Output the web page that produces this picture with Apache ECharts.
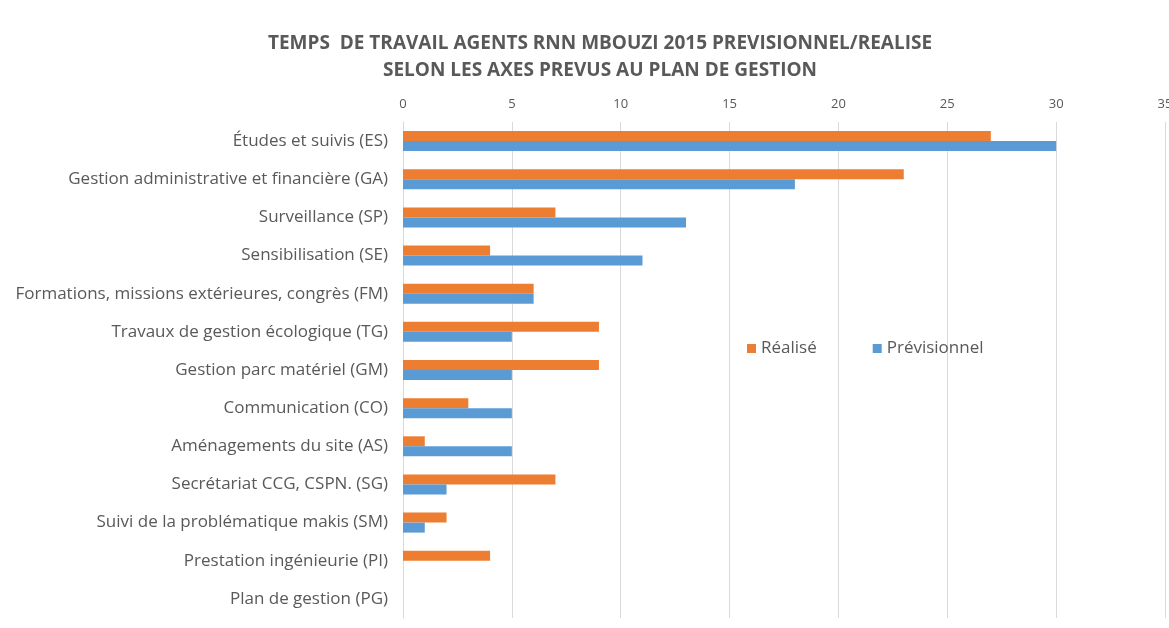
<!DOCTYPE html>
<html>
<head>
<meta charset="utf-8">
<script src="https://cdn.jsdelivr.net/npm/echarts@6/dist/echarts.min.js"></script>
<style>
  html, body { margin: 0; padding: 0; background: #fff; }
  #chart { width: 1169px; height: 628px; }
</style>
</head>
<body>
<div id="chart"></div>
<script>
// axes du plan de gestion, top to bottom
const categories = [
  'Études et suivis (ES)',
  'Gestion administrative et financière (GA)',
  'Surveillance (SP)',
  'Sensibilisation (SE)',
  'Formations, missions extérieures, congrès (FM)',
  'Travaux de gestion écologique (TG)',
  'Gestion parc matériel (GM)',
  'Communication (CO)',
  'Aménagements du site (AS)',
  'Secrétariat CCG, CSPN. (SG)',
  'Suivi de la problématique makis (SM)',
  'Prestation ingénieurie (PI)',
  'Plan de gestion (PG)'
];
const realise = [27, 23, 7, 4, 6, 9, 9, 3, 1, 7, 2, 4, 0];
const previsionnel = [30, 18, 13, 11, 6, 5, 5, 5, 5, 2, 1, 0, 0];

const textColor = '#595959';
const chart = echarts.init(document.getElementById('chart'), null, { renderer: 'canvas' });

chart.setOption({
  animation: false,
  textStyle: { fontFamily: '"Open Sans", sans-serif', color: textColor },
  title: {
    text: 'TEMPS  DE TRAVAIL AGENTS RNN MBOUZI 2015 PREVISIONNEL/REALISE\nSELON LES AXES PREVUS AU PLAN DE GESTION',
    left: 595,
    textAlign: 'center',
    top: 25,
    textStyle: { fontSize: 19, fontWeight: 'bold', color: textColor, lineHeight: 27, fontFamily: '"Open Sans", sans-serif' }
  },
  legend: {
    left: 742,
    top: 335,
    icon: 'rect',
    itemWidth: 9,
    itemHeight: 9,
    itemGap: 56,
    textStyle: { fontSize: 17, color: textColor },
    data: ['Réalisé', 'Prévisionnel']
  },
  grid: { left: 403, right: 4, top: 122, bottom: 10, outerBoundsMode: 'none' },
  xAxis: {
    type: 'value',
    position: 'top',
    min: 0,
    max: 35,
    interval: 5,
    axisLine: { show: false },
    axisTick: { show: false },
    axisLabel: { color: textColor, fontSize: 13, margin: 11 },
    splitLine: { lineStyle: { color: '#d9d9d9', width: 1 } }
  },
  yAxis: {
    type: 'category',
    inverse: true,
    data: categories,
    axisLine: { lineStyle: { color: '#d9d9d9' } },
    axisTick: { show: false },
    axisLabel: { color: textColor, fontSize: 17, margin: 15 }
  },
  series: [
    {
      name: 'Réalisé',
      type: 'bar',
      data: realise,
      barWidth: 10,
      barGap: '0%',
      itemStyle: { color: '#ed7d31' }
    },
    {
      name: 'Prévisionnel',
      type: 'bar',
      data: previsionnel,
      barWidth: 10,
      barGap: '0%',
      itemStyle: { color: '#5b9bd5' }
    }
  ]
});
</script>
</body>
</html>
